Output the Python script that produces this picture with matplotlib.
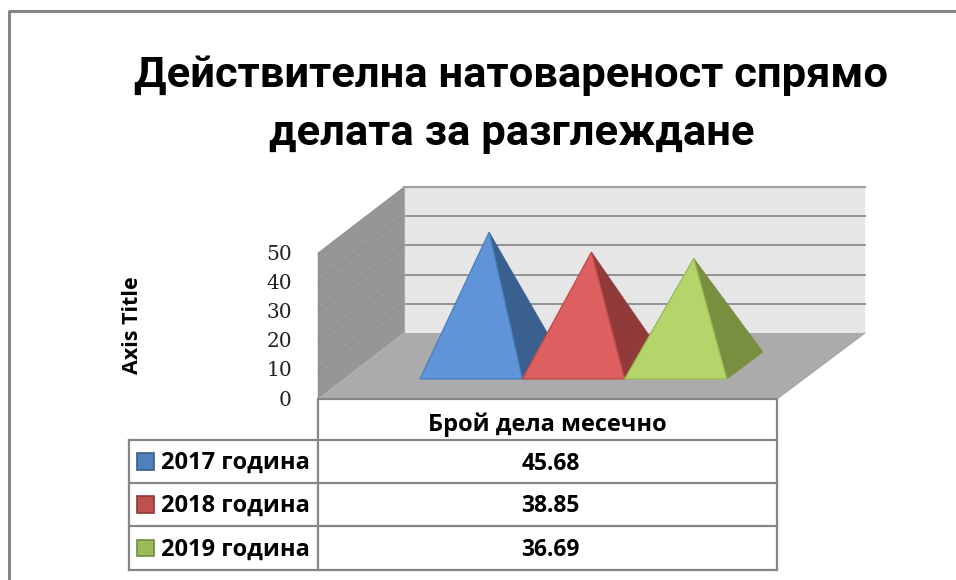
import matplotlib
matplotlib.use("Agg")
import matplotlib.pyplot as plt
from matplotlib.patches import Polygon, Rectangle

title_lines = ["Действителна натовареност спрямо", "делата за разглеждане"]
category = "Брой дела месечно"
series = ["2017 година", "2018 година", "2019 година"]
values = [45.68, 38.85, 36.69]
value_labels = ["45.68", "38.85", "36.69"]
ticks = [0, 10, 20, 30, 40, 50]
axis_title = "Axis Title"

front_colors = ["#5F95D8", "#DD5F5F", "#B3D56A"]
side_colors = ["#3A6090", "#913A3A", "#778F3E"]
edge_colors = ["#4A7EBB", "#BE4B48", "#98B954"]
swatch_colors = ["#4F81BD", "#C0504D", "#9BBB59"]
swatch_edges = ["#385D8A", "#8C3836", "#71893F"]

GRAY = "#868686"
FONT = "Open Sans"
TITLE_FONT = "Roboto"

# everything is laid out in reference pixels
fig = plt.figure(figsize=(9.56, 5.8), dpi=100)
ax = fig.add_axes([0, 0, 1, 1])
ax.set_xlim(0, 956)
ax.set_ylim(580, 0)
ax.axis("off")

# 3d box geometry
left, right = 318, 777
floor_y = 399
depth_x, depth_y = 86, 66
per_unit = 2.92


def val_y(v):
    return floor_y - v * per_unit


# outer frame, cut by the image edge
ax.plot([9.5, 9.5, 956], [580, 11, 11], color=GRAY, lw=2.2, solid_capstyle="butt")

# walls and floor
top_y = val_y(50)
ax.add_patch(Polygon([(left + depth_x, top_y - depth_y), (right + depth_x + 2, top_y - depth_y),
                      (right + depth_x + 2, floor_y - depth_y), (left + depth_x, floor_y - depth_y)],
                     fc="#E6E6E6", ec="none"))
ax.add_patch(Polygon([(left, top_y), (left + depth_x, top_y - depth_y),
                      (left + depth_x, floor_y - depth_y), (left, floor_y)],
                     fc="#969696", ec="none"))
ax.add_patch(Polygon([(left, floor_y), (left + depth_x, floor_y - depth_y),
                      (right + depth_x + 2, floor_y - depth_y), (right, floor_y)],
                     fc="#ABABAB", ec="none"))

for t in ticks[1:]:
    y = val_y(t)
    ax.plot([left + depth_x, right + depth_x + 2], [y - depth_y, y - depth_y], color="#8C8C8C", lw=1.3)
    ax.plot([left, left + depth_x], [y, y - depth_y], color="#8A8A8A", lw=0.5)
ax.plot([left, left], [top_y, floor_y], color="#8C8C8C", lw=1)
ax.plot([left + depth_x, left + depth_x], [top_y - depth_y, floor_y - depth_y], color="#A8A8A8", lw=0.8)
ax.plot([left + depth_x, right + depth_x + 2], [top_y - depth_y, top_y - depth_y], color="#A8A8A8", lw=1)

# pyramids
base_y = 379
base_w = 102.3
base_x0 = 420
px, py = 36, 27
for i, v in enumerate(values):
    x0 = base_x0 + i * base_w
    x1 = x0 + base_w
    apex = (x0 + base_w / 2 + px / 2, base_y - py / 2 - v * per_unit)
    ax.add_patch(Polygon([apex, (x1, base_y), (x1 + px, base_y - py)],
                         fc=side_colors[i], ec=side_colors[i], lw=0.5, zorder=3 + i))
    ax.add_patch(Polygon([apex, (x0, base_y), (x1, base_y)],
                         fc=front_colors[i], ec=edge_colors[i], lw=0.9, zorder=3 + i))

# value axis labels
for t in ticks:
    ax.text(292, val_y(t) + 1, str(t), ha="right", va="center", fontsize=14.5,
            family="DejaVu Serif", color="#222222")
ax.text(133, 325, axis_title, rotation=90, ha="center", va="center", fontsize=15.5,
        family=FONT, weight="bold", color="black")

# title
for line, y in zip(title_lines, [76, 134]):
    ax.text(511.5, y, line, ha="center", va="center", fontsize=31.3, family=TITLE_FONT,
            weight="bold", color="black")

# data table
row_ys = [440, 483, 526, 570]
tc = dict(color=GRAY, lw=1.6, solid_capstyle="projecting", zorder=6)
ax.plot([left, left], [floor_y, row_ys[-1]], **tc)
ax.plot([right, right], [floor_y, row_ys[-1]], **tc)
ax.plot([left, right], [floor_y, floor_y], **tc)
ax.plot([right, right + depth_x + 2], [floor_y, floor_y - depth_y], color="#A8A8A8", lw=0.8)
ax.plot([129, 129], [row_ys[0], row_ys[-1]], **tc)
for y in row_ys:
    ax.plot([129, right], [y, y], **tc)

ax.text((left + right) / 2, 425, category, ha="center", va="center", fontsize=17,
        family=FONT, weight="bold", color="black")
for i, name in enumerate(series):
    mid = (row_ys[i] + row_ys[i + 1]) / 2
    ax.add_patch(Rectangle((137.5, mid - 8.5), 16.5, 16.5, fc=swatch_colors[i], ec=swatch_edges[i], lw=1.2))
    ax.text(161, mid + 1.5, name, ha="left", va="center", fontsize=17, family=FONT,
            weight="bold", color="black")
    ax.text((left + right) / 2 + 3, mid + 2, value_labels[i], ha="center", va="center", fontsize=16.5,
            family=FONT, weight="bold", color="black")

fig.savefig("out.png", dpi=100)
